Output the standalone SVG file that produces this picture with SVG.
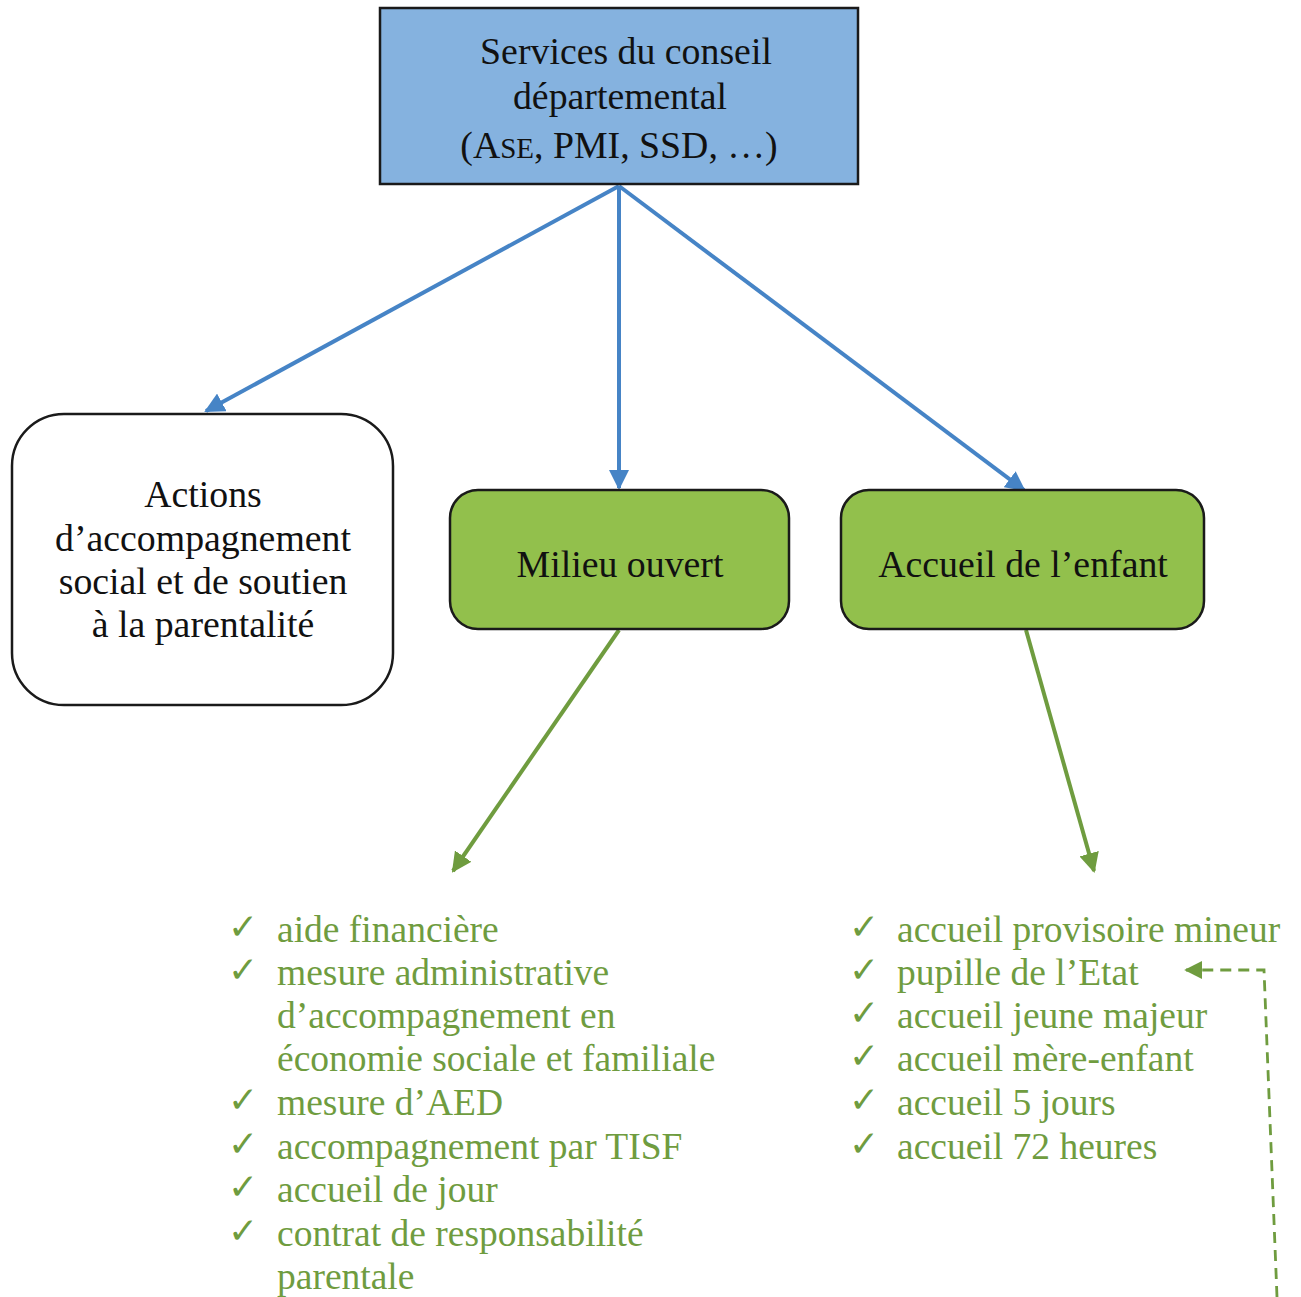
<svg xmlns="http://www.w3.org/2000/svg" width="1301" height="1297" viewBox="0 0 1301 1297">
<style>
.t{font-family:"Liberation Serif","Times New Roman",serif;font-size:37.8px;fill:#111;text-anchor:middle}
.g{font-family:"Liberation Serif","Times New Roman",serif;font-size:37.5px;fill:#6f9c3f}
.ck{font-family:"DejaVu Sans",sans-serif;font-size:36px;fill:#6f9c3f}
.blue{stroke:#4684c6;stroke-width:4;fill:none}
.green{stroke:#6f9c3f;stroke-width:4;fill:none}
</style>
<defs>
<marker id="ab" viewBox="0 0 10 10" refX="9" refY="5" markerWidth="5" markerHeight="5" orient="auto" markerUnits="strokeWidth"><path d="M0,0 L10,5 L0,10 z" fill="#4684c6"/></marker>
<marker id="ag" viewBox="0 0 10 10" refX="9" refY="5" markerWidth="5" markerHeight="5" orient="auto" markerUnits="strokeWidth"><path d="M0,0 L10,5 L0,10 z" fill="#6f9c3f"/></marker>
<marker id="ad" viewBox="0 0 10 10" refX="9" refY="5" markerWidth="6.5" markerHeight="6.5" orient="auto" markerUnits="strokeWidth"><path d="M0,0 L10,5 L0,10 z" fill="#6f9c3f"/></marker>
</defs>
<rect width="1301" height="1297" fill="#fff"/>
<g id="connectors">
<line class="blue" x1="619" y1="186" x2="206" y2="411" marker-end="url(#ab)"/>
<line class="blue" x1="619" y1="186" x2="619" y2="488" marker-end="url(#ab)"/>
<line class="blue" x1="619" y1="186" x2="1024" y2="490" marker-end="url(#ab)"/>
<line class="green" x1="619" y1="630" x2="453" y2="871" marker-end="url(#ag)"/>
<line class="green" x1="1026" y1="630" x2="1094" y2="871" marker-end="url(#ag)"/>
<path d="M1277,1297 L1264,970 L1186,970" stroke="#6f9c3f" stroke-width="2.8" fill="none" stroke-dasharray="11,7" marker-end="url(#ad)"/>
</g>
<g id="node-services">
<rect x="380" y="8" width="478" height="176" fill="#85b2df" stroke="#1a1a1a" stroke-width="2.5"/>
<text class="t" x="626" y="64">Services du conseil</text>
<text class="t" x="620" y="109">départemental</text>
<text class="t" x="619" y="158">(A<tspan font-size="29">SE</tspan>, PMI, SSD, …)</text>
</g>
<g id="node-actions">
<rect x="12" y="414" width="381" height="291" rx="52" fill="#fff" stroke="#1a1a1a" stroke-width="2.5"/>
<text class="t" x="203" y="507">Actions</text>
<text class="t" x="203" y="551">d’accompagnement</text>
<text class="t" x="203" y="594">social et de soutien</text>
<text class="t" x="203" y="637">à la parentalité</text>
</g>
<g id="node-milieu">
<rect x="450" y="490" width="339" height="139" rx="28" fill="#92c04c" stroke="#1a1a1a" stroke-width="2.5"/>
<text class="t" x="620" y="577">Milieu ouvert</text>
</g>
<g id="node-accueil">
<rect x="841" y="490" width="363" height="139" rx="28" fill="#92c04c" stroke="#1a1a1a" stroke-width="2.5"/>
<text class="t" x="1023" y="577">Accueil de l’enfant</text>
</g>
<g id="list-milieu">
<text class="ck" x="228" y="939">✓</text>
<text class="g" x="277" y="942">aide financière</text>
<text class="ck" x="228" y="982">✓</text>
<text class="g" x="277" y="985">mesure administrative</text>
<text class="g" x="277" y="1028">d’accompagnement en</text>
<text class="g" x="277" y="1071">économie sociale et familiale</text>
<text class="ck" x="228" y="1112">✓</text>
<text class="g" x="277" y="1115">mesure d’AED</text>
<text class="ck" x="228" y="1156">✓</text>
<text class="g" x="277" y="1159">accompagnement par TISF</text>
<text class="ck" x="228" y="1199">✓</text>
<text class="g" x="277" y="1202">accueil de jour</text>
<text class="ck" x="228" y="1243">✓</text>
<text class="g" x="277" y="1246">contrat de responsabilité</text>
<text class="g" x="277" y="1289">parentale</text>
</g>
<g id="list-accueil">
<text class="ck" x="849" y="939">✓</text>
<text class="g" x="897" y="942">accueil provisoire mineur</text>
<text class="ck" x="849" y="982">✓</text>
<text class="g" x="897" y="985">pupille de l’Etat</text>
<text class="ck" x="849" y="1025">✓</text>
<text class="g" x="897" y="1028">accueil jeune majeur</text>
<text class="ck" x="849" y="1068">✓</text>
<text class="g" x="897" y="1071">accueil mère-enfant</text>
<text class="ck" x="849" y="1112">✓</text>
<text class="g" x="897" y="1115">accueil 5 jours</text>
<text class="ck" x="849" y="1156">✓</text>
<text class="g" x="897" y="1159">accueil 72 heures</text>
</g>
</svg>
